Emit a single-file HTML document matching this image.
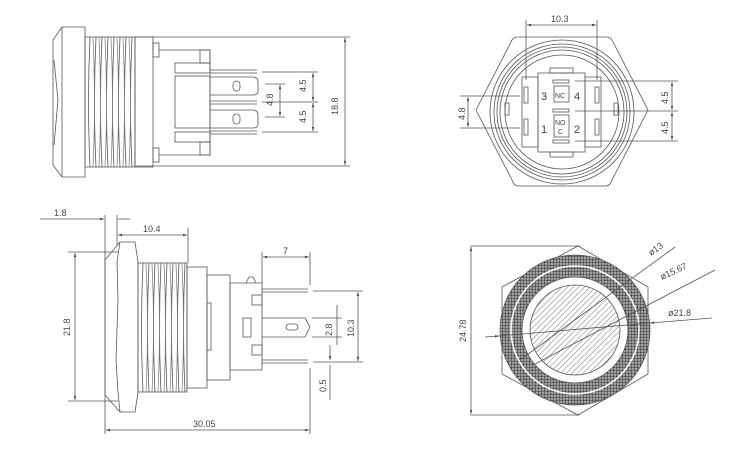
<!DOCTYPE html>
<html><head><meta charset="utf-8"><style>
html,body{margin:0;padding:0;background:#fff;}
svg{display:block;}
text{font-family:"Liberation Sans",sans-serif;font-size:9px;fill:#444;}
</style></head><body>
<svg width="740" height="458" viewBox="0 0 740 458" xmlns="http://www.w3.org/2000/svg">
<defs>
<marker id="a" viewBox="0 0 10 10" refX="10" refY="5" markerWidth="5" markerHeight="5" orient="auto-start-reverse"><path d="M0,2 L10,5 L0,8z" fill="#444"/></marker>
<pattern id="knurl" width="3" height="3" patternUnits="userSpaceOnUse"><rect width="3" height="3" fill="#bbb"/><circle cx="1.5" cy="1.5" r="1.2" fill="#444"/></pattern>
<pattern id="hatch" width="4" height="4" patternUnits="userSpaceOnUse" patternTransform="rotate(45)"><rect width="4" height="4" fill="#fff"/><line x1="0" y1="0" x2="0" y2="4" stroke="#777" stroke-width="1"/></pattern>
</defs>
<g fill="none" stroke="#555" stroke-width="0.8">
<!-- TOP LEFT -->
<path d="M62,27 L85,27 L85,177 L62,177 L53,165 L53,40 Z"/>
<line x1="62" y1="27" x2="62" y2="177"/>
<path d="M54,60 L58,100 L54,145"/>
<rect x="85" y="37" width="50" height="130"/>
<g stroke="#555">
<path d="M90,37 Q87,102 90,167 M96,37 Q93,102 96,167 M102,37 Q99,102 102,167 M108,37 Q105,102 108,167 M114,37 Q111,102 114,167 M120,37 Q117,102 120,167 M126,37 Q123,102 126,167 M132,37 Q129,102 132,167"/>
<path d="M93,37 Q96,102 93,167 M99,37 Q102,102 99,167 M105,37 Q108,102 105,167 M111,37 Q114,102 111,167 M117,37 Q120,102 117,167 M123,37 Q126,102 123,167 M129,37 Q132,102 129,167" stroke="#888"/>
</g>
<rect x="135" y="37" width="18" height="130"/>
<rect x="153" y="43" width="6" height="14"/><rect x="153" y="148" width="6" height="14"/>
<path d="M159,50 L200,50 L200,50 L210,50 L210,155 L159,155"/>
<rect x="200" y="50" width="10" height="13"/><rect x="200" y="142" width="10" height="13"/>
<rect x="175" y="63" width="35" height="10"/><rect x="175" y="132" width="35" height="10"/>
<rect x="175" y="76" width="35" height="52"/>
<line x1="210" y1="70" x2="257" y2="70"/><line x1="210" y1="73" x2="257" y2="73"/>
<path d="M210,77 L253,77 Q258,77 258,82 L258,91 Q258,95 253,95 L210,95"/>
<rect x="233" y="81" width="7" height="10" rx="3.5"/>
<line x1="210" y1="101" x2="257" y2="101"/><line x1="210" y1="104" x2="257" y2="104"/>
<path d="M210,110 L253,110 Q258,110 258,115 L258,124 Q258,128 253,128 L210,128"/>
<rect x="233" y="114" width="7" height="10" rx="3.5"/>
<line x1="210" y1="131" x2="257" y2="131"/><line x1="210" y1="134" x2="257" y2="134"/>
<!-- dims top-left -->
<line x1="135" y1="37" x2="350" y2="37"/><line x1="135" y1="166" x2="350" y2="166"/>
<line x1="345" y1="38" x2="345" y2="165" marker-start="url(#a)" marker-end="url(#a)"/>
<line x1="262" y1="72" x2="318" y2="72"/><line x1="262" y1="132" x2="318" y2="132"/><line x1="262" y1="102" x2="318" y2="102"/>
<line x1="313" y1="73" x2="313" y2="101" marker-start="url(#a)" marker-end="url(#a)"/>
<line x1="313" y1="103" x2="313" y2="131" marker-start="url(#a)" marker-end="url(#a)"/>
<line x1="265" y1="84" x2="285" y2="84"/><line x1="265" y1="117" x2="285" y2="117"/>
<line x1="280" y1="85" x2="280" y2="116" marker-start="url(#a)" marker-end="url(#a)"/>

<!-- BOTTOM LEFT -->
<path d="M120,242 L135,242 L138,262 L138,392 L135,412 L120,412 L105,395 L105,260 Z"/>
<path d="M120,242 L117,262 L118,300 L116,360 L118,392 L120,412"/>
<rect x="138" y="263" width="49" height="129"/>
<g stroke="#555">
<path d="M143,263 Q140,327 143,392 M149,263 Q146,327 149,392 M155,263 Q152,327 155,392 M161,263 Q158,327 161,392 M167,263 Q164,327 167,392 M173,263 Q170,327 173,392 M179,263 Q176,327 179,392 M185,263 Q182,327 185,392"/>
<path d="M146,263 Q149,327 146,392 M152,263 Q155,327 152,392 M158,263 Q161,327 158,392 M164,263 Q167,327 164,392 M170,263 Q173,327 170,392 M176,263 Q179,327 176,392 M182,263 Q185,327 182,392" stroke="#888"/>
</g>
<rect x="187" y="267" width="20" height="121"/>
<rect x="207" y="275" width="23" height="105"/>
<rect x="207" y="303" width="4" height="47"/>
<path d="M230,283 L262,283 L262,370 L230,370 Z"/>
<path d="M246,283 L249,277 L253,277 L256,283"/>
<rect x="252" y="295" width="10" height="10"/><rect x="252" y="345" width="10" height="10"/>
<rect x="243" y="318" width="8" height="19"/>
<line x1="262" y1="289" x2="308" y2="289"/><line x1="262" y1="292" x2="308" y2="292"/>
<path d="M262,318 L305,318 L310,327 L305,337 L262,337"/>
<rect x="286" y="324" width="12" height="6" rx="3"/>
<line x1="262" y1="360" x2="308" y2="360"/><line x1="262" y1="363" x2="308" y2="363"/>
<!-- dims bottom-left -->
<line x1="40" y1="219" x2="104" y2="219" marker-end="url(#a)"/><line x1="118" y1="219" x2="130" y2="219"/>
<line x1="105" y1="215" x2="105" y2="434"/><line x1="117" y1="215" x2="117" y2="245"/>
<line x1="118" y1="235" x2="187" y2="235" marker-start="url(#a)" marker-end="url(#a)"/>
<line x1="188" y1="228" x2="188" y2="263"/>
<line x1="262" y1="252" x2="262" y2="283"/><line x1="310" y1="252" x2="310" y2="285"/>
<line x1="263" y1="257" x2="309" y2="257" marker-start="url(#a)" marker-end="url(#a)"/>
<line x1="68" y1="252" x2="118" y2="252"/><line x1="68" y1="401" x2="118" y2="401"/>
<line x1="75" y1="253" x2="75" y2="400" marker-start="url(#a)" marker-end="url(#a)"/>
<line x1="310" y1="368" x2="310" y2="434"/>
<line x1="106" y1="430" x2="309" y2="430" marker-start="url(#a)" marker-end="url(#a)"/>
<line x1="313" y1="291" x2="363" y2="291"/><line x1="313" y1="362" x2="363" y2="362"/>
<line x1="358" y1="292" x2="358" y2="361" marker-start="url(#a)" marker-end="url(#a)"/>
<line x1="312" y1="318" x2="342" y2="318"/><line x1="312" y1="337" x2="342" y2="337"/>
<line x1="337" y1="305" x2="337" y2="345"/>
<line x1="330" y1="345" x2="330" y2="360" marker-end="url(#a)"/><line x1="330" y1="365" x2="330" y2="400"/>

<!-- TOP RIGHT -->
<path d="M476,110 L512,40 Q514,37 518,37 L606,37 Q610,37 612,40 L648,110 L612,180 Q610,186 606,186 L518,186 Q514,186 512,180 Z"/>
<circle cx="562" cy="112" r="72"/><circle cx="562" cy="112" r="68"/><circle cx="562" cy="112" r="65"/><circle cx="562" cy="112" r="62"/><circle cx="562" cy="112" r="57"/>
<rect x="538" y="73" width="47" height="79" fill="#fff"/>
<rect x="550" y="68" width="23" height="5"/><rect x="550" y="152" width="23" height="5"/>
<rect x="522" y="77" width="16" height="70"/><rect x="585" y="77" width="16" height="70"/>
<rect x="524" y="87" width="4" height="16"/><rect x="524" y="119" width="4" height="16"/>
<rect x="595" y="87" width="4" height="16"/><rect x="595" y="119" width="4" height="16"/>
<rect x="505" y="103" width="4" height="12"/><rect x="614" y="103" width="4" height="12"/>
<rect x="553" y="80" width="16" height="3"/><rect x="553" y="109" width="16" height="3"/><rect x="553" y="140" width="16" height="3"/>
<rect x="554" y="86" width="15" height="16"/><rect x="554" y="115" width="15" height="22"/>
<line x1="526" y1="20" x2="526" y2="80"/><line x1="597" y1="20" x2="597" y2="80"/>
<line x1="527" y1="25" x2="596" y2="25" marker-start="url(#a)" marker-end="url(#a)"/>
<line x1="460" y1="96" x2="520" y2="96"/><line x1="460" y1="128" x2="520" y2="128"/>
<line x1="468" y1="97" x2="468" y2="127" marker-start="url(#a)" marker-end="url(#a)"/>
<line x1="575" y1="81" x2="678" y2="81"/><line x1="575" y1="111" x2="678" y2="111"/><line x1="575" y1="141" x2="678" y2="141"/>
<line x1="672" y1="82" x2="672" y2="110" marker-start="url(#a)" marker-end="url(#a)"/>
<line x1="672" y1="112" x2="672" y2="140" marker-start="url(#a)" marker-end="url(#a)"/>

<!-- BOTTOM RIGHT -->
<path d="M578,246 L648,287 L648,374 L578,415 L502,374 L502,287 Z"/>
<circle cx="575" cy="330" r="75" fill="url(#knurl)"/>
<circle cx="575" cy="330" r="64" fill="none" stroke="#fff" stroke-width="1.5"/>
<circle cx="575" cy="330" r="53" fill="#fff"/>
<circle cx="575" cy="330" r="45" fill="url(#hatch)"/>
<line x1="470" y1="246" x2="580" y2="246"/><line x1="470" y1="415" x2="580" y2="415"/>
<line x1="471" y1="247" x2="471" y2="414" marker-start="url(#a)" marker-end="url(#a)"/>
<line x1="485" y1="337" x2="499" y2="336" marker-end="url(#a)"/><line x1="499" y1="336" x2="650" y2="323"/>
<line x1="650" y1="323" x2="712" y2="318" marker-start="url(#a)"/>
<line x1="533" y1="365" x2="715" y2="270" stroke="#555"/>
<line x1="520" y1="360" x2="675" y2="247" stroke="#555"/>
</g>
<!-- text -->
<g>
<text transform="translate(306,92) rotate(-90)">4.5</text>
<text transform="translate(306,123) rotate(-90)">4.5</text>
<text transform="translate(273,106) rotate(-90)">4.8</text>
<text transform="translate(338,115) rotate(-90)">18.8</text>
<text x="54" y="216">1.8</text>
<text x="143" y="232">10.4</text>
<text x="283" y="254">7</text>
<text transform="translate(70,336) rotate(-90)">21.8</text>
<text x="193" y="427">30.05</text>
<text transform="translate(332,336) rotate(-90)">2.8</text>
<text transform="translate(354,337) rotate(-90)">10.3</text>
<text transform="translate(326,392) rotate(-90)">0.5</text>
<text x="551" y="22">10.3</text>
<text transform="translate(465,120) rotate(-90)">4.8</text>
<text transform="translate(668,104) rotate(-90)">4.5</text>
<text transform="translate(668,134) rotate(-90)">4.5</text>
<text x="541" y="100" style="font-size:11px">3</text>
<text x="574" y="100" style="font-size:11px">4</text>
<text x="541" y="133" style="font-size:11px">1</text>
<text x="574" y="133" style="font-size:11px">2</text>
<text x="555" y="98" style="font-size:7px">NC</text>
<text x="555" y="125" style="font-size:7px">NO</text>
<text x="558" y="134" style="font-size:7px">C</text>
<text transform="translate(466,342) rotate(-90)">24.78</text>
<text transform="translate(651,256) rotate(-35)">ø13</text>
<text transform="translate(662,280) rotate(-25)">ø15.67</text>
<text x="668" y="316">ø21.8</text>
</g>
</svg>
</body></html>
